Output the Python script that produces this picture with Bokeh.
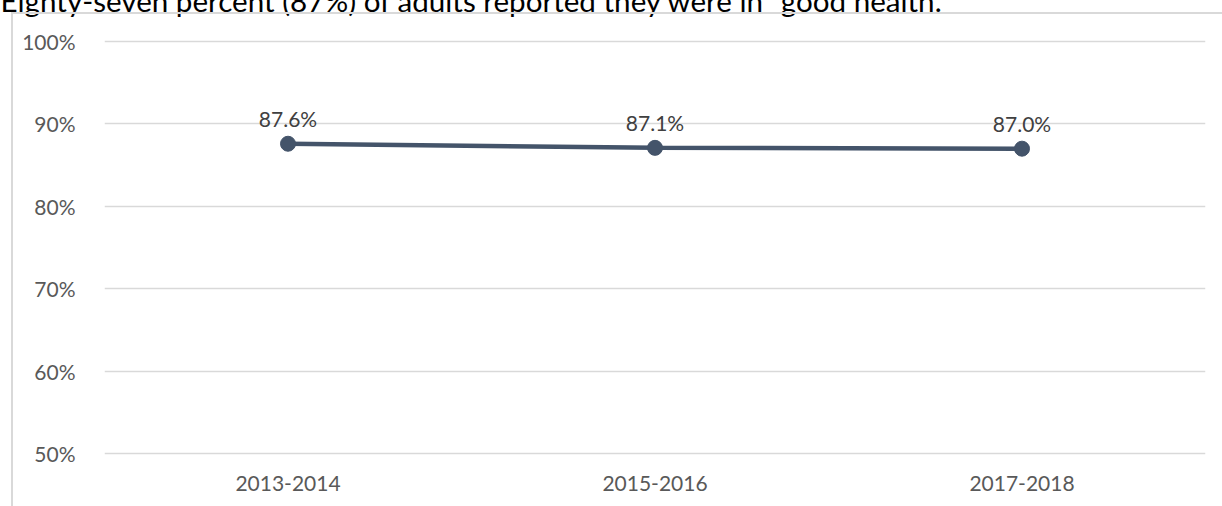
from bokeh.plotting import figure
from bokeh.models import Range1d, Title, ColumnDataSource, FixedTicker, GlobalInlineStyleSheet, InlineStyleSheet
from bokeh.core.properties import value
from bokeh.embed import file_html
from bokeh.resources import INLINE

periods = ["2013-2014", "2015-2016", "2017-2018"]
values = [87.6, 87.1, 87.0]
value_labels = ["87.6%", "87.1%", "87.0%"]
y_ticks = [50, 60, 70, 80, 90, 100]
title_text = "Eighty-seven percent (87%) of adults reported they were in \u201cgood health.\u201d"

FONT = "Lato"
W, H = 1222, 506
T = 40  # canvas extends this far above the top of the page (title line is cut off there)
BL, BR, BT, BB = 104, 17, 37 + T, 49

p = figure(x_range=periods, y_range=Range1d(49.5, 100.5), width=W, height=H + T,
           output_backend="svg", toolbar_location=None,
           min_border_left=BL, min_border_right=BR, min_border_top=BT, min_border_bottom=BB)
p.styles = {"margin-top": f"-{T}px"}
p.stylesheets = [
    GlobalInlineStyleSheet(css="html, body { margin: 0 !important; padding: 0 !important; overflow: hidden; }"),
    InlineStyleSheet(css=":host { position: relative; } :host::after { content: ''; position: absolute; "
                         f"left: 11px; top: {12 + T}px; right: 0; bottom: 0; border-left: 2px solid #d9d9d9; "
                         "border-top: 2px solid #d9d9d9; pointer-events: none; }"),
]
p.outline_line_color = None
p.background_fill_color = "white"
p.border_fill_color = "white"

p.add_layout(Title(text=title_text, align="left", offset=-BL, standoff=39,
                   text_font=FONT, text_font_size="29.6px", text_font_style="normal",
                   text_color="#000000"), "above")

p.xgrid.grid_line_color = None
p.ygrid.grid_line_color = "#d9d9d9"
p.ygrid.grid_line_width = 1.5

p.yaxis.ticker = FixedTicker(ticks=y_ticks)
p.yaxis.major_label_overrides = {t: f"{t}%" for t in y_ticks}
for ax in (p.xaxis[0], p.yaxis[0]):
    ax.axis_line_color = None
    ax.major_tick_line_color = None
    ax.minor_tick_line_color = None
    ax.major_label_text_font = FONT
    ax.major_label_text_font_size = "21px"
    ax.major_label_text_color = "#595959"
p.yaxis.major_label_standoff = 23
p.xaxis.major_label_standoff = 12

src = ColumnDataSource(dict(x=periods, y=values, lab=value_labels))
p.line("x", "y", source=src, line_color="#44546a", line_width=4.5)
p.scatter("x", "y", source=src, size=15, fill_color="#44546a", line_color="#44546a")
p.text("x", "y", text="lab", source=src, text_align="center", text_baseline="alphabetic",
       y_offset=-25, text_font=value(FONT), text_font_size="21px", text_color="#404040")

open("out.html", "w").write(file_html(p, INLINE))
